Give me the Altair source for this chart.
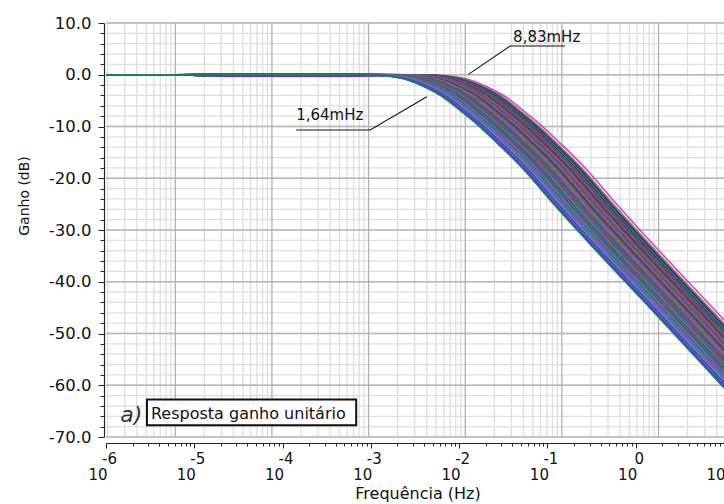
import altair as alt
import pandas as pd
import math

# ---------------- values ----------------
X_DOMAIN = [1e-6, 1e1]
Y_DOMAIN = [-70, 10]

# top (magenta) curve: roll-off part, log10(f) and gain in dB
SHAPE_LOGF = [-2.215, -2.045, -1.875, -1.649, -1.479, -1.277, -1.084, -0.858, -0.552, -0.258, 1.0, 1.75]
SHAPE_DB = [-0.1, -0.4, -1.0, -2.6, -4.2, -6.9, -9.6, -13.2, -18.4, -24.2, -47.4, -61.2]

# flat part (log10 f) and the small spread of the curves there (dB)
FLAT_LOGF = [-6.0, -5.25, -4.6, -3.9, -3.2]
FLAT_LEVEL = [0.1, -0.1, -0.25, 0.05, -0.15, -0.3, 0.0, -0.2]

# horizontal position of each Monte Carlo curve relative to the top one (decades)
CURVE_SHIFT = [0.0, -0.038, -0.05, -0.066, -0.079, -0.094, -0.108, -0.125, -0.139, -0.152,
               -0.171, -0.184, -0.199, -0.217, -0.228, -0.246, -0.262, -0.274, -0.291, -0.303,
               -0.322, -0.336, -0.348, -0.367, -0.381, -0.394, -0.41, -0.427, -0.439, -0.456,
               -0.472, -0.483, -0.501, -0.517, -0.529, -0.546, -0.561, -0.574, -0.592, -0.606,
               -0.618, -0.636, -0.649, -0.664, -0.681, -0.697, -0.713]
CURVE_COLOR = ["#e234ee", "#8c8c2c", "#76863a", "#27355f", "#1e3ec2", "#2e8b57", "#3b3b3b", "#c2307e",
               "#2445b8", "#2f7d50", "#7e3ea2", "#43434f", "#a52a2a", "#2a8a6c", "#c93584", "#3352b2",
               "#5b5b5b", "#2e8b57", "#9152c2", "#b2234f", "#22317f", "#4a8b3a", "#626262", "#c542a2",
               "#2f8c58", "#3262c2", "#7b3b9b", "#a33232", "#218171", "#515b7b", "#c43282", "#3a9b52",
               "#2242b2", "#8262c2", "#4b4b4b", "#2e8b57", "#9252b2", "#3272c2", "#1b7b5b", "#c352a3",
               "#6b52d2", "#2b9b6b", "#8b72d2", "#4232d2", "#3b7bb2", "#5b22e2", "#1b8352"]
assert len(CURVE_SHIFT) == len(CURVE_COLOR)

# grid of the original plot (it is not aligned with the axis ticks): dark lines, log10 f
GRID_DECADES = [-5.2155, -4.1207, -3.026, -1.931, -0.8364, 0.2583]
GRID_SPAN = 1.0948
Y_MINOR_STEP = 2
Y_MAJOR_STEP = 10

EXPONENTS = [-6, -5, -4, -3, -2, -1, 0, 1]

# annotations
ANN_TEXT = ["8,83mHz", "1,64mHz"]
ANN_TEXT_LOGF = [-1.389, -3.8455]
ANN_TEXT_DB = [6.32, -8.76]
LEADER_ID = ["a", "a", "a", "b", "b", "b"]
LEADER_LOGF = [-1.895, -1.4228, -0.800, -2.366, -3.0078, -3.8455]
LEADER_DB = [0.08, 5.55, 5.55, -4.25, -10.69, -10.69]

BOX_LOGF = [-5.536, -3.166]
BOX_DB = [-62.77, -67.74]
BOX_TEXT = "Resposta ganho unitário"
BOX_TEXT_POS = (-5.4906, -66.45)
PANEL_TEXT = "a)"
PANEL_TEXT_POS = (-5.838, -67.1)

FONT = "DejaVu Sans"
W, H = 618, 414

# ---------------- tables ----------------
rows = []
n = len(CURVE_SHIFT)
for idx in range(n):
    s = CURVE_SHIFT[idx]
    pts = [(FLAT_LOGF[0], 0.0), (FLAT_LOGF[1], 0.0)]
    for lf in FLAT_LOGF[2:]:
        if lf < SHAPE_LOGF[0] + s - 0.1:
            pts.append((lf, FLAT_LEVEL[idx % len(FLAT_LEVEL)]))
    pts += [(lf + s, db) for lf, db in zip(SHAPE_LOGF, SHAPE_DB)]
    for k, (lf, db) in enumerate(pts):
        rows.append({"curve": f"c{idx:02d}", "f": 10 ** lf, "db": db, "k": k})
curves = pd.DataFrame(rows)
curve_ids = [f"c{i:02d}" for i in range(n)]

# vertical grid lines
vmaj, vmin = [], []
for d in GRID_DECADES:
    vmaj.append(d)
for d in [GRID_DECADES[0] - GRID_SPAN] + GRID_DECADES:
    for m in range(2, 10):
        v = d + GRID_SPAN * math.log10(m)
        if -6 <= v <= 1:
            vmin.append(v)
vmaj_df = pd.DataFrame({"f": [10 ** v for v in vmaj]})
vmin_df = pd.DataFrame({"f": [10 ** v for v in vmin]})
hmin_df = pd.DataFrame({"db": list(range(Y_DOMAIN[0], Y_DOMAIN[1] + 1, Y_MINOR_STEP))})
hmaj_df = pd.DataFrame({"db": list(range(Y_DOMAIN[0], Y_DOMAIN[1] + 1, Y_MAJOR_STEP))})

# tick values for the x axis
x_ticks = []
for e in EXPONENTS:
    for m in range(1, 10):
        v = m * 10 ** e
        if v <= X_DOMAIN[1] * 1.0001:
            x_ticks.append(v)

exp_df = pd.DataFrame({"f": [10.0 ** e for e in EXPONENTS], "lab": [str(e) for e in EXPONENTS]})
ann_df = pd.DataFrame({"t": ANN_TEXT, "f": [10 ** v for v in ANN_TEXT_LOGF], "db": ANN_TEXT_DB})
lead_df = pd.DataFrame({"g": LEADER_ID, "f": [10 ** v for v in LEADER_LOGF], "db": LEADER_DB,
                        "k": list(range(len(LEADER_ID)))})
box_df = pd.DataFrame({"f": [10 ** BOX_LOGF[0]], "f2": [10 ** BOX_LOGF[1]], "db": [BOX_DB[0]], "db2": [BOX_DB[1]]})
boxt_df = pd.DataFrame({"t": [BOX_TEXT], "f": [10 ** BOX_TEXT_POS[0]], "db": [BOX_TEXT_POS[1]]})
pan_df = pd.DataFrame({"t": [PANEL_TEXT], "f": [10 ** PANEL_TEXT_POS[0]], "db": [PANEL_TEXT_POS[1]]})

# ---------------- scales and axes ----------------
xs = alt.Scale(type="log", domain=X_DOMAIN, nice=False)
ys = alt.Scale(domain=Y_DOMAIN, nice=False, zero=False)

xaxis = alt.Axis(values=x_ticks, labels=False, title=None, grid=False, offset=6,
                 domainColor="#222222", tickColor="#222222", domainWidth=1.2,
                 tickSize={"condition": {"test": "abs(log(datum.value)/LN10 - round(log(datum.value)/LN10)) < 0.000001", "value": 5}, "value": 3})
yaxis = alt.Axis(values=list(range(Y_DOMAIN[0], Y_DOMAIN[1] + 1, Y_MINOR_STEP)), title=None, grid=False,
                 offset=2, domainColor="#222222", tickColor="#222222", domainWidth=1.2,
                 labelExpr="datum.value % 10 === 0 ? (datum.value < 0 ? '-' + format(-datum.value, '.1f') : format(datum.value, '.1f')) : ''",
                 labelFont=FONT, labelFontSize=16.5, labelColor="#111111", labelPadding=7,
                 tickSize={"condition": {"test": "datum.value % 10 === 0", "value": 6}, "value": 4})


def X(field="f"):
    return alt.X(f"{field}:Q", scale=xs, axis=xaxis)


def Y(field="db"):
    return alt.Y(f"{field}:Q", scale=ys, axis=yaxis)


hmin = alt.Chart(hmin_df).mark_rule(color="#dedede", strokeWidth=1.3).encode(y=Y())
vmin_l = alt.Chart(vmin_df).mark_rule(color="#dedede", strokeWidth=1.3).encode(x=X())
hmaj = alt.Chart(hmaj_df).mark_rule(color="#b6b6b6", strokeWidth=1.3).encode(y=Y())
vmaj_l = alt.Chart(vmaj_df).mark_rule(color="#b0b0b0", strokeWidth=1.3).encode(x=X())

lines = alt.Chart(curves).mark_line(interpolate="monotone", strokeWidth=1.6, clip=True).encode(
    x=X(), y=Y(),
    color=alt.Color("curve:N", scale=alt.Scale(domain=curve_ids, range=CURVE_COLOR), legend=None),
    order="k:Q",
)

leaders = alt.Chart(lead_df).mark_line(color="#111111", strokeWidth=1.1).encode(
    x=X(), y=Y(), detail="g:N", order="k:Q")
ann = alt.Chart(ann_df).mark_text(align="left", baseline="alphabetic", font=FONT, fontSize=15,
                                  color="#111111").encode(x=X(), y=Y(), text="t:N")
box = alt.Chart(box_df).mark_rect(fill="white", stroke="#111111", strokeWidth=2).encode(
    x=X(), x2="f2:Q", y=Y(), y2="db2:Q")
boxt = alt.Chart(boxt_df).mark_text(align="left", baseline="alphabetic", font=FONT, fontSize=16,
                                    color="#111111").encode(x=X(), y=Y(), text="t:N")
pan = alt.Chart(pan_df).mark_text(align="left", baseline="alphabetic", font=FONT, fontSize=22,
                                  fontStyle="italic", color="#333333").encode(x=X(), y=Y(), text="t:N")

base10 = alt.Chart(exp_df).mark_text(text="10", align="right", baseline="alphabetic", dx=1.5,
                                     font=FONT, fontSize=15, color="#111111").encode(
    x=X(), y=alt.value(H + 43))
expo = alt.Chart(exp_df).mark_text(align="center", baseline="alphabetic", dx=3.5,
                                   font=FONT, fontSize=15, color="#111111").encode(
    x=X(), y=alt.value(H + 27), text="lab:N")

xtitle = alt.Chart(pd.DataFrame({"t": ["Frequência (Hz)"]})).mark_text(
    align="center", baseline="alphabetic", font=FONT, fontSize=16, color="#111111").encode(
    x=alt.value(312), y=alt.value(H + 62), text="t:N")
ytitle = alt.Chart(pd.DataFrame({"t": ["Ganho (dB)"]})).mark_text(
    align="center", baseline="middle", angle=270, font=FONT, fontSize=14, color="#111111").encode(
    x=alt.value(-81), y=alt.value(173), text="t:N")

chart = alt.layer(
    hmin, vmin_l, hmaj, vmaj_l, lines, leaders, ann, box, boxt, pan, base10, expo, xtitle, ytitle
).properties(
    width=W, height=H,
    autosize=alt.AutoSizeParams(type="none"),
    padding={"left": 106, "top": 23, "right": 0, "bottom": 67},
    background="white",
).configure_view(stroke=None)

chart.save("out.html", embed_options={"renderer": "svg", "actions": False})
